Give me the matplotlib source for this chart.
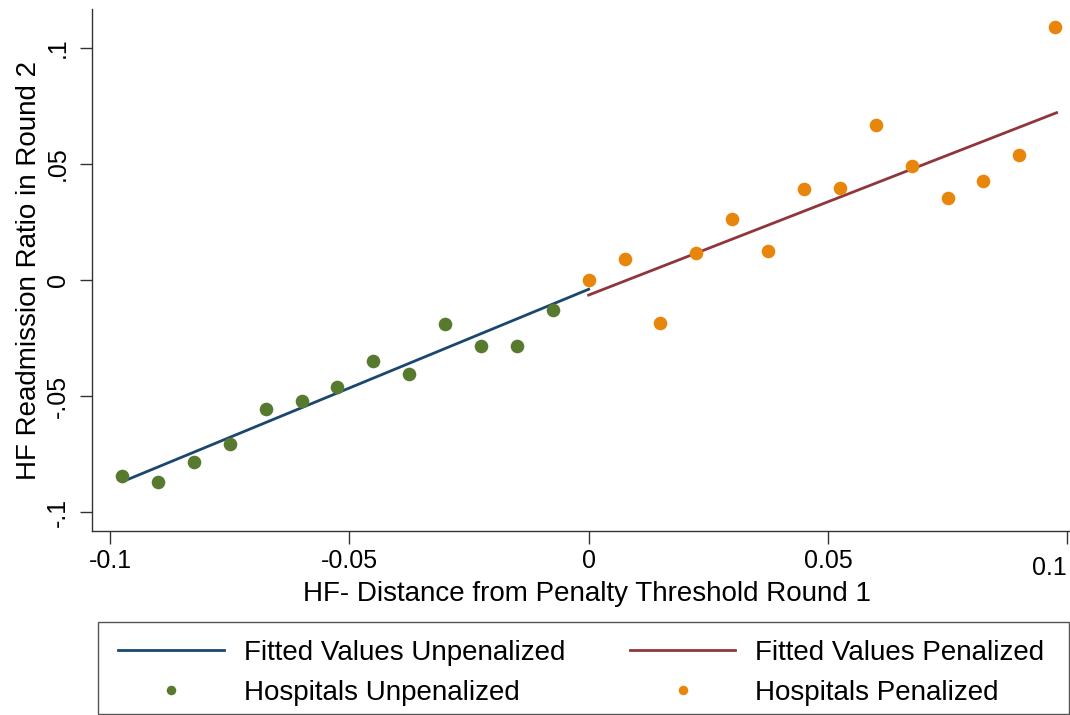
import matplotlib
matplotlib.use("Agg")
import matplotlib.pyplot as plt
from matplotlib.patches import Rectangle

plt.rcParams['font.family'] = ['Liberation Sans', 'DejaVu Sans']

# ---- data ----
x_unpen = [-0.0975, -0.0900, -0.0825, -0.0750, -0.0675, -0.0600, -0.0525,
           -0.0450, -0.0375, -0.0300, -0.0225, -0.0150, -0.0075]
y_unpen = [-0.0844, -0.0869, -0.0786, -0.0707, -0.0556, -0.0523, -0.0460,
           -0.0348, -0.0404, -0.0191, -0.0286, -0.0286, -0.0131]

x_pen = [0.0000, 0.0075, 0.0150, 0.0225, 0.0300, 0.0375, 0.0450,
         0.0525, 0.0600, 0.0675, 0.0750, 0.0825, 0.0900, 0.0975]
y_pen = [-0.0002, 0.0089, -0.0187, 0.0118, 0.0263, 0.0124, 0.0392,
         0.0398, 0.0667, 0.0493, 0.0352, 0.0425, 0.0538, 0.1092]

fit_x_unpen = [-0.0974, 0.0000]
fit_y_unpen = [-0.0869, -0.0040]
fit_x_pen = [0.0000, 0.0978]
fit_y_pen = [-0.0065, 0.0721]

xticks = [-0.1, -0.05, 0, 0.05, 0.1]
xticklabels = ['-0.1', '-0.05', '0', '0.05', '0.1']
yticks = [-0.1, -0.05, 0, 0.05, 0.1]
yticklabels = ['-.1', '-.05', '0', '.05', '.1']

labels = ['Fitted Values Unpenalized', 'Fitted Values Penalized',
          'Hospitals Unpenalized', 'Hospitals Penalized']
xlabel = 'HF- Distance from Penalty Threshold Round 1'
ylabel = 'HF Readmission Ratio in Round 2'

c_navy = '#1a476f'
c_maroon = '#90353b'
c_green = '#587a2e'
c_orange = '#e8860c'

# ---- figure ----
W, H = 1070, 715
fig = plt.figure(figsize=(W / 100, H / 100), dpi=100)
ax = fig.add_axes([92 / W, 1 - 531 / H, (1070 - 92) / W, (531 - 9) / H])

l1, = ax.plot(fit_x_unpen, fit_y_unpen, color=c_navy, lw=2.0, zorder=2)
l2, = ax.plot(fit_x_pen, fit_y_pen, color=c_maroon, lw=2.0, zorder=2)
p1, = ax.plot(x_unpen, y_unpen, 'o', color=c_green, ms=9.8, mew=0, zorder=3)
p2, = ax.plot(x_pen, y_pen, 'o', color=c_orange, ms=9.8, mew=0, zorder=3)

ax.set_xlim(-0.1038, 0.1006)
ax.set_ylim(-0.1082, 0.1168)

ax.set_xticks(xticks)
ax.set_xticklabels(xticklabels, fontsize=18)
ax.set_yticks(yticks)
ax.set_yticklabels(yticklabels, fontsize=18, rotation=90, va='center')

ax.tick_params(axis='both', length=9, width=1.0, color='#333333')
ax.tick_params(axis='x', pad=4)
ax.tick_params(axis='y', pad=7)

for s in ['top', 'right']:
    ax.spines[s].set_visible(False)
for s in ['left', 'bottom']:
    ax.spines[s].set_linewidth(1.0)
    ax.spines[s].set_color('#333333')

# last x tick label shifted like the original
last = ax.xaxis.get_major_ticks()[-1]
last.set_pad(9)
last.label1.set_horizontalalignment('right')

ax.set_xlabel(xlabel, fontsize=20)
ax.xaxis.set_label_coords(0.506, -0.0955)
ax.set_ylabel(ylabel, fontsize=20, labelpad=2.5)

leg = fig.legend([l1, p1, l2, p2],
                 [labels[0], labels[2], labels[1], labels[3]],
                 ncol=2, loc='upper left',
                 bbox_to_anchor=(118 / W, 1 - 640 / H),
                 borderaxespad=0, borderpad=0, fontsize=20,
                 handlelength=3.8, handletextpad=0.72, labelspacing=0.5,
                 columnspacing=2.34, markerscale=0.7, frameon=False)

fig.add_artist(Rectangle((98 / W, 1 - 714 / H), (1069 - 98) / W, (714 - 622) / H,
                         transform=fig.transFigure, fill=False,
                         edgecolor='#555555', linewidth=1.0))

fig.savefig('out.png', dpi=100)
